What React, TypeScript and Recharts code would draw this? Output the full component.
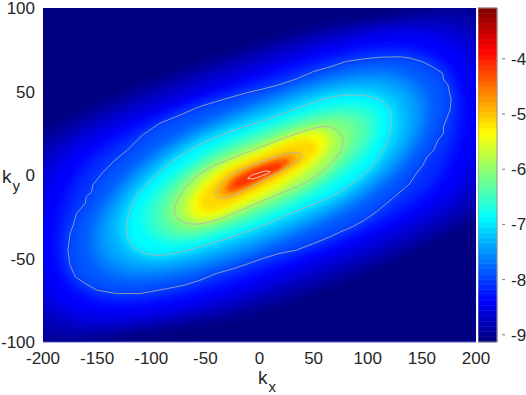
import { ComposedChart, ReferenceArea, Scatter, XAxis, YAxis } from 'recharts';

type Vertex = [number, number];

const X_TICKS = [-200, -150, -100, -50, 0, 50, 100, 150, 200];
const Y_TICKS = [-100, -50, 0, 50, 100];
const BAR_TICKS = [-9, -8, -7, -6, -5, -4];
const BAR_MIN = -9.13;
const BAR_MAX = -3.08;

// filled bands, outermost first: [level, outline in (kx, ky)]
const BAND_M900: Vertex[] = [[3, 80], [70, 90], [130, 94], [220, 108], [245, 40], [235, 0], [200, -30], [3, -82], [-70, -90], [-130, -94], [-220, -108], [-245, -40], [-235, 0], [-200, 30]];
const BAND_M875: Vertex[] = [[3, 72], [70, 85], [140, 92], [205, 92], [222, 40], [215, 0], [178, -28], [3, -73], [-70, -85], [-140, -92], [-205, -92], [-222, -40], [-215, 0], [-178, 28]];
const BAND_M850: Vertex[] = [[3, 64], [70, 79], [135, 88], [195, 80], [208, 35], [195, 0], [160, -25], [3, -65], [-55, -78], [-140, -88], [-198, -80], [-208, -35], [-195, 0], [-160, 25]];
const BAND_M825: Vertex[] = [[3, 57], [65, 71], [130, 79], [178, 68], [190, 35], [172, 0], [135, -24], [3, -56], [-55, -70], [-135, -79], [-182, -68], [-190, -35], [-172, 0], [-135, 24]];
const BAND_M800: Vertex[] = [[3, 51.5], [18, 54], [34, 57.5], [50, 62], [65, 64.7], [80, 68], [96, 69.5], [111, 70.5], [130, 70.8], [139, 70], [151, 67.7], [160, 64.7], [169, 61], [170, 57], [174, 54], [177, 45], [176, 39], [170, 29], [170, 25], [165, 21], [161, 15], [155, 11], [151, 6], [145, 1], [139, -5], [123, -14], [108, -22], [97, -27], [86, -31], [75, -34], [65, -37], [50, -41], [34, -45], [18, -47], [3, -50], [-10, -53], [-24, -56], [-40, -59], [-55, -63], [-70, -66], [-85, -68], [-110, -71], [-132, -71], [-141, -70], [-150, -69], [-161, -65], [-170, -61], [-175, -54], [-177, -45], [-175, -35], [-172, -30], [-169, -23], [-161, -17], [-160, -13], [-155, -10], [-154, -6], [-145.5, 1], [-135, 8], [-122, 15], [-108, 24], [-92, 31], [-73, 36], [-55, 41], [-40, 44], [-24, 47], [-10, 49.5]];
const BAND_M775: Vertex[] = [[3, 46], [65, 60], [118, 66], [158, 55], [160, 26], [112, -13], [3, -45], [-55, -58], [-125, -65], [-158, -54], [-160, -27], [-104, 17]];
const BAND_M750: Vertex[] = [[3, 41], [65, 56], [116, 60], [147, 50], [150, 25], [102, -13], [3, -40], [-55, -53], [-118, -60], [-148, -48], [-148, -24], [-91, 18]];
const BAND_M725: Vertex[] = [[3, 37], [65, 52], [112, 54], [135, 43], [135, 20], [85, -13], [3, -35], [-55, -48], [-110, -54], [-136, -40], [-132, -18], [-73, 19]];
const BAND_M700: Vertex[] = [[3, 32], [34, 40], [65, 47], [86, 48.5], [108, 47], [120, 41], [123, 35], [121, 25], [114, 13], [102, 3], [84, -6], [68, -13], [43, -19], [22, -25], [3, -30.5], [-24, -37], [-55, -43], [-85, -48.5], [-104, -48], [-120, -43], [-124, -33], [-121, -23], [-115, -13], [-101, -3], [-80, 9], [-55, 19], [-24, 27]];
const BAND_M675: Vertex[] = [[3, 28], [50, 40], [100, 44], [113, 35], [106, 14], [58, -11], [3, -27], [-50, -39], [-92, -43], [-112, -30], [-104, -12], [-50, 15]];
const BAND_M650: Vertex[] = [[3, 25], [48, 36], [90, 39], [104, 32], [98, 15], [52, -8], [3, -23], [-50, -36], [-82, -39], [-100, -28], [-92, -10], [-45, 13]];
const BAND_M625: Vertex[] = [[3, 21], [42, 31], [76, 35], [90, 30], [88, 18], [56, -3], [3, -19], [-50, -32], [-73, -35], [-90, -24], [-76, -6], [-38, 11]];
const BAND_M600: Vertex[] = [[3, 17], [34, 25], [59, 30], [72, 28], [79, 21], [75, 13], [61, 3], [43, -5], [19, -11], [3, -15.5], [-24, -23], [-48, -29], [-64, -30], [-76, -27], [-80, -21], [-75, -13], [-61, -1], [-39, 7]];
const BAND_M575: Vertex[] = [[0, 15], [32, 24], [57, 28], [68, 24], [66, 15], [35, -4], [-5, -16], [-45, -27], [-60, -28], [-73, -21], [-57, -4], [-30, 8]];
const BAND_M550: Vertex[] = [[0, 13], [31, 23], [56, 26], [65, 21], [56, 10], [22, -5], [-8, -15], [-40, -25], [-58, -26], [-68, -20], [-55, -7], [-31, 6]];
const BAND_M525: Vertex[] = [[0, 11], [30, 21], [48, 22], [57, 17], [45, 8], [17, -4], [-9, -12], [-36, -21], [-53, -22], [-58, -17], [-50, -8], [-31, 4]];
const BAND_M500: Vertex[] = [[-2, 7], [22, 13], [37, 14], [41, 11], [31, 6], [12, 0], [-9, -8], [-30, -14], [-39, -14], [-41, -11], [-39, -7], [-27, 1]];
const BAND_M475: Vertex[] = [[-2, 6], [20, 11], [30, 12], [33, 9], [24, 4], [8, -1], [-9, -7], [-26, -12], [-33, -12], [-34, -9], [-30, -5], [-20, 1]];
const BAND_M450: Vertex[] = [[-2, 5], [15, 9], [26, 10], [28, 7], [18, 3], [3, -2], [-9, -6], [-24, -10], [-30, -10], [-30, -7], [-26, -3], [-14, 2]];
const BAND_M425: Vertex[] = [[-2, 4], [10, 6], [20, 7], [22, 5], [12, 2], [0, -2], [-9, -4], [-18, -7], [-24, -7], [-24, -5], [-18, -2], [-9, 1]];
const BAND_M400: Vertex[] = [[-11, -2], [-7, 0], [5, 2.4], [10, 2], [7, 0.6], [-6, -2.4]];

const BANDS: [number, Vertex[]][] = [
  [-9, BAND_M900], [-8.75, BAND_M875], [-8.5, BAND_M850], [-8.25, BAND_M825], [-8, BAND_M800],
  [-7.75, BAND_M775], [-7.5, BAND_M750], [-7.25, BAND_M725], [-7, BAND_M700], [-6.75, BAND_M675],
  [-6.5, BAND_M650], [-6.25, BAND_M625], [-6, BAND_M600], [-5.75, BAND_M575], [-5.5, BAND_M550],
  [-5.25, BAND_M525], [-5, BAND_M500], [-4.75, BAND_M475], [-4.5, BAND_M450], [-4.25, BAND_M425],
];
const CONTOURS = [BAND_M700, BAND_M600, BAND_M500, BAND_M400];

const FONT = '"Liberation Sans", Arial, sans-serif';
const SERIF = '"Liberation Serif", serif';
const INK = '#262626';

function jet(level: number) {
  const t = (level - BAR_MIN) / (BAR_MAX - BAR_MIN);
  const ch = (v: number) => Math.round(255 * Math.max(0, Math.min(1, v)));
  const r = ch(1.5 - Math.abs(4 * t - 3));
  const g = ch(1.5 - Math.abs(4 * t - 2));
  const b = ch(1.5 - Math.abs(4 * t - 1));
  return `rgb(${r},${g},${b})`;
}

const toPoints = (outline: Vertex[]) => outline.map(([x, y]) => ({ x, y }));
const NoDot = () => <g />;
const softFor = (level: number) => {
  if (level < -7) return 'url(#soft6)';
  if (level < -5.25) return 'url(#soft4)';
  if (level < -4.5) return 'url(#soft3)';
  return 'url(#soft2)';
};

const barSteps = Array.from({ length: 64 }, (_, i) => BAR_MIN + (i * (BAR_MAX - BAR_MIN)) / 64);

function BarTick(props: any) {
  const { x, y, payload } = props;
  return (
    <g>
      <line x1={x - 3} x2={x} y1={y} y2={y} stroke="#7a7a7a" />
      <text x={x + 6} y={y + 6} fontFamily={FONT} fontSize={17} fill={INK}>
        {payload.value}
      </text>
    </g>
  );
}

function Soft({ id, sd }: { id: string; sd: number }) {
  return (
    <filter id={id} filterUnits="userSpaceOnUse" x="-300" y="-300" width="1200" height="1000">
      <feGaussianBlur stdDeviation={sd} />
    </filter>
  );
}

export default function App() {
  return (
    <div style={{ position: 'absolute', left: 0, top: 0, width: 526, height: 395, background: '#fff' }}>
      <ComposedChart width={526} height={395} margin={{ top: 8, right: 50, bottom: 23, left: 0 }} style={{ position: 'absolute', left: 0, top: 0 }}>
        <defs>
          <Soft id="soft6" sd={6} />
          <Soft id="soft4" sd={4} />
          <Soft id="soft3" sd={3} />
          <Soft id="soft2" sd={1.5} />
        </defs>
        <XAxis
          type="number"
          dataKey="x"
          domain={[-200, 200]}
          ticks={X_TICKS}
          allowDataOverflow
          interval={0}
          height={30}
          tickLine={false}
          tickMargin={4}
          axisLine={{ stroke: '#5c5cc8' }}
          tick={{ fontSize: 17, fontFamily: FONT, fill: INK }}
        />
        <YAxis
          type="number"
          dataKey="y"
          domain={[-100, 100]}
          ticks={Y_TICKS}
          allowDataOverflow
          interval={0}
          width={43}
          tickLine={false}
          axisLine={false}
          tick={{ fontSize: 17, fontFamily: FONT, fill: INK }}
        />
        <ReferenceArea x1={-200} x2={200} y1={-100} y2={100} fill={jet(-9.13)} fillOpacity={1} stroke="none" />
        {BANDS.map(([level, outline]) => (
          <Scatter
            key={level}
            data={toPoints(outline)}
            shape={NoDot}
            line={{ fill: jet(level + 0.125), stroke: 'none', filter: softFor(level) }}
            lineType="joint"
            lineJointType="basisClosed"
            isAnimationActive={false}
          />
        ))}
        <Scatter
          data={toPoints(BAND_M800)}
          shape={NoDot}
          line={{ fill: 'none', stroke: '#b4b4b4', strokeOpacity: 0.75, strokeWidth: 1 }}
          lineType="joint"
          lineJointType="linearClosed"
          isAnimationActive={false}
        />
        {CONTOURS.map((outline, i) => (
          <Scatter
            key={i}
            data={toPoints(outline)}
            shape={NoDot}
            line={{ fill: 'none', stroke: i === 3 ? '#f0d8d8' : '#b4b4b4', strokeOpacity: 0.85, strokeWidth: 1 }}
            lineType="joint"
            lineJointType={i === 3 ? 'linearClosed' : 'basisClosed'}
            isAnimationActive={false}
          />
        ))}
        <text x={53} y={36} fontFamily={SERIF} fontSize={24} fill="#f2f2f2">
          <tspan fontStyle="italic">z</tspan>
          <tspan dx={7}>=</tspan>
          <tspan dx={7}>0</tspan>
        </text>
        <text x={366} y={34} fontFamily={SERIF} fontSize={24} fontStyle="italic" fill="#f2f2f2">
          log
          <tspan fontSize={16} dy={4} fontStyle="normal">10</tspan>
          <tspan dy={-4} fontStyle="normal">(</tspan>
          <tspan>E</tspan>
          <tspan fontSize={16} dy={4}>M</tspan>
          <tspan dy={-4} fontStyle="normal">)</tspan>
        </text>
        <text x={258} y={384} fontFamily={FONT} fontSize={19} fill={INK}>
          k<tspan fontSize={15} dy={8} dx={1}>x</tspan>
        </text>
        <text x={2} y={183} fontFamily={FONT} fontSize={19} fill={INK}>
          k<tspan fontSize={15} dy={8} dx={1}>y</tspan>
        </text>
      </ComposedChart>
      <ComposedChart width={48} height={395} margin={{ top: 8, right: 0, bottom: 53, left: 0 }} style={{ position: 'absolute', left: 478, top: 0 }}>
        <XAxis type="number" dataKey="x" domain={[0, 1]} allowDataOverflow hide />
        <YAxis
          orientation="right"
          type="number"
          dataKey="y"
          domain={[BAR_MIN, BAR_MAX]}
          ticks={BAR_TICKS}
          allowDataOverflow
          interval={0}
          width={29}
          tickLine={false}
          axisLine={false}
          tick={BarTick}
        />
        {barSteps.map((low) => {
          const colour = jet(low + (BAR_MAX - BAR_MIN) / 128);
          return (
            <ReferenceArea
              key={low}
              x1={0}
              x2={1}
              y1={low}
              y2={low + (BAR_MAX - BAR_MIN) / 64}
              fill={colour}
              fillOpacity={1}
              stroke={colour}
              strokeWidth={0.6}
            />
          );
        })}
        <ReferenceArea x1={0} x2={1} y1={BAR_MIN} y2={BAR_MAX} fill="none" stroke="#969696" />
      </ComposedChart>
    </div>
  );
}
